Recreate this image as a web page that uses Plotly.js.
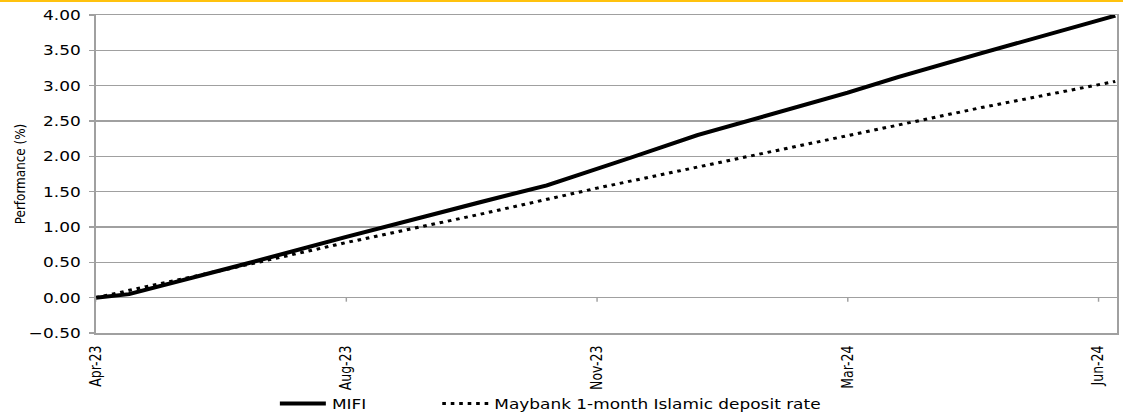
<!DOCTYPE html>
<html><head><meta charset="utf-8">
<script src="https://cdn.plot.ly/plotly-3.0.1.min.js"></script>
<style>
html,body{margin:0;padding:0;background:#fff;overflow:hidden;}
#bar{position:absolute;left:0;top:0;width:1123px;height:2px;background:#FFC20E;}
#chart{position:absolute;left:0;top:0;width:928px;height:413px;transform:scaleX(1.2101);transform-origin:0 0;}
</style></head>
<body>
<div id="chart"></div>
<div id="bar"></div>
<script>
const mifiWeek  = [0, 2, 9, 15, 23, 27, 32, 36, 45, 48, 53, 61];
const mifiVal   = [0.00, 0.05, 0.48, 0.86, 1.35, 1.59, 1.98, 2.30, 2.90, 3.12, 3.46, 3.99];
const depWeek   = [0, 2, 8, 15, 23, 30, 38, 45, 53, 61];
const depVal    = [0.00, 0.10, 0.41, 0.78, 1.18, 1.55, 1.95, 2.30, 2.69, 3.06];
const tickWeek  = [0, 15, 30, 45, 60];
const tickText  = ['Apr-23', 'Aug-23', 'Nov-23', 'Mar-24', 'Jun-24'];
const yTicks    = [-0.5, 0, 0.5, 1, 1.5, 2, 2.5, 3, 3.5, 4];

const GRAY = '#a0a0a0';
const traces = [
  {x: mifiWeek, y: mifiVal, name: 'MIFI', mode: 'lines', legend: 'legend',
   line: {color: '#000', width: 4}},
  {x: depWeek, y: depVal, name: 'Maybank 1-month Islamic deposit rate', mode: 'lines',
   legend: 'legend2',
   line: {color: '#000', width: 3, dash: '3px,4px'}}
];
// small tick marks hanging below the zero line at each labelled category
const shapes = tickWeek.map(w => ({
  type: 'line', xref: 'x', yref: 'y', ysizemode: 'pixel', yanchor: 0,
  x0: w, x1: w, y0: 0, y1: -4, line: {color: GRAY, width: 1.2}
}));
const legendBase = {orientation: 'h', xanchor: 'left', y: -0.173, yanchor: 'top',
  itemwidth: 38, font: {size: 14}, bgcolor: 'rgba(0,0,0,0)'};
const layout = {
  width: 928, height: 413,
  margin: {l: 78.5, r: 5, t: 15, b: 80, autoexpand: false},
  paper_bgcolor: '#fff', plot_bgcolor: '#fff',
  font: {family: 'DejaVu Sans, Verdana, sans-serif', size: 14, color: '#000'},
  xaxis: {
    range: [0, 61.1], tickvals: tickWeek, ticktext: tickText, tickangle: -90,
    showgrid: false, zeroline: false, showline: true, mirror: true,
    linecolor: GRAY, linewidth: 1.5, ticks: '', ticklabelstandoff: 6,
    tickfont: {family: 'DejaVu Sans, sans-serif', size: 12.5}
  },
  yaxis: {
    range: [-0.5, 4.0], tickvals: yTicks, tickformat: '.2f',
    showgrid: true, gridcolor: GRAY, gridwidth: 1.5, zeroline: false,
    showline: true, mirror: true, linecolor: GRAY, linewidth: 1.5,
    ticks: 'outside', ticklen: 4, tickcolor: GRAY, tickwidth: 1.5,
    ticklabelstandoff: 4,
    tickfont: {size: 14},
    title: {text: 'Performance (%)', standoff: 0,
      font: {family: 'DejaVu Sans, sans-serif', size: 12}}
  },
  shapes: shapes,
  showlegend: true,
  legend: Object.assign({}, legendBase, {x: 0.1745}),
  legend2: Object.assign({}, legendBase, {x: 0.3335})
};
Plotly.newPlot('chart', traces, layout, {displayModeBar: false, staticPlot: true});
</script>
</body></html>
